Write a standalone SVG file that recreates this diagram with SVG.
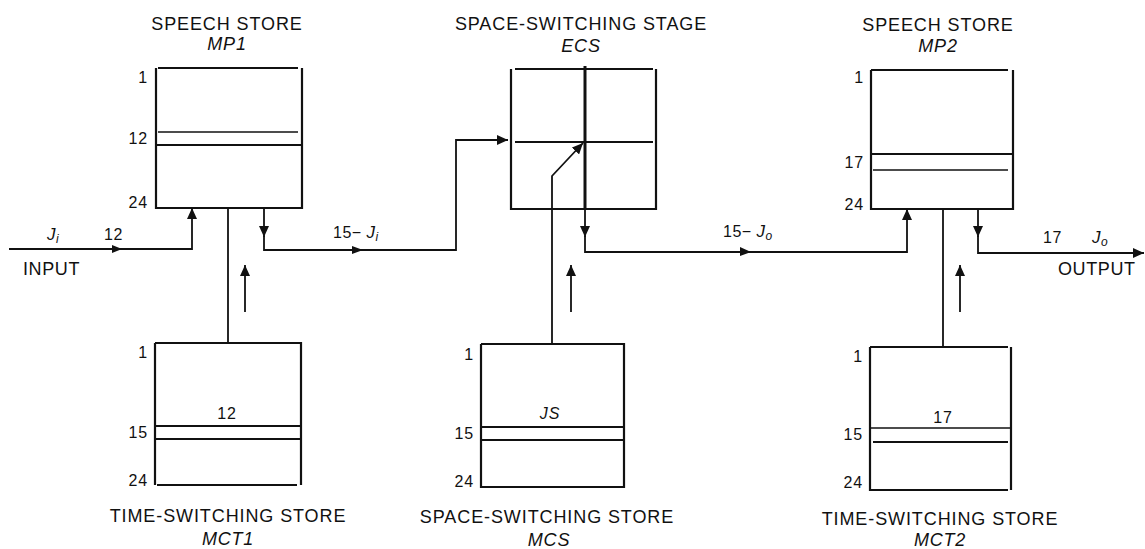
<svg xmlns="http://www.w3.org/2000/svg" width="1145" height="549" viewBox="0 0 1145 549">
<style>
  text { font-family: "Liberation Sans", Arial, sans-serif; fill: #111; }
  .title { font-size: 18px; letter-spacing: 0.9px; text-anchor: middle; }
  .name { font-size: 18px; font-style: italic; letter-spacing: 0.8px; text-anchor: middle; }
  .num { font-size: 16px; letter-spacing: 0.8px; text-anchor: end; }
  .mid { font-size: 16px; letter-spacing: 0.8px; text-anchor: middle; }
  .lab { font-size: 16px; letter-spacing: 0.5px; }
  .io { font-size: 18px; letter-spacing: 0.6px; }
  .it { font-style: italic; }
  .sub { font-size: 12px; font-style: italic; }
  .box { fill: none; stroke: #111; stroke-width: 2.2; }
  .thin { fill: none; stroke: #111; stroke-width: 1.6; }
  .wire { fill: none; stroke: #111; stroke-width: 1.8; }
  .tick { fill: #111; }
</style>
<defs>
  <marker id="ah" markerUnits="userSpaceOnUse" markerWidth="12" markerHeight="10" refX="11" refY="5" orient="auto">
    <path d="M0,0 L11,5 L0,10 z" fill="#111"/>
  </marker>
</defs>

<g id="MP1">
  <text class="title" x="227" y="30">SPEECH STORE</text>
  <text class="name" x="227" y="50">MP1</text>
  <path class="box" d="M156,68 V208 H302 V68 M158,68 H298"/>
  <path class="thin" d="M158,132 H298"/>
  <path class="box" d="M156,145 H302"/>
  <text class="num" x="148" y="83">1</text>
  <text class="num" x="148" y="144">12</text>
  <text class="num" x="148" y="208">24</text>
</g>

<g id="MCT1">
  <path class="box" d="M155,343 V485 M157,485 H297 M301,485 V343 H155"/>
  <path class="box" d="M155,426 H301 M155,439 H301"/>
  <text class="num" x="148" y="358">1</text>
  <text class="num" x="148" y="438">15</text>
  <text class="num" x="148" y="486">24</text>
  <text class="mid" x="227" y="419">12</text>
  <text class="title" x="228" y="522">TIME-SWITCHING STORE</text>
  <text class="name" x="228" y="545">MCT1</text>
</g>

<g id="ECS">
  <text class="title" x="581" y="30">SPACE-SWITCHING STAGE</text>
  <text class="name" x="581" y="52">ECS</text>
  <path class="box" d="M511,69 V209 H656 V69 M515,69 H653"/>
  <path class="box" d="M515,142 H653"/>
  <path d="M585,66 V209" fill="none" stroke="#111" stroke-width="3"/>
</g>

<g id="MCS">
  <path class="box" d="M481,344 V487 H624 V344 H481"/>
  <path class="box" d="M481,427 H624 M481,440 H624"/>
  <text class="num" x="474" y="360">1</text>
  <text class="num" x="474" y="439">15</text>
  <text class="num" x="474" y="487">24</text>
  <text class="mid it" x="550" y="419">JS</text>
  <text class="title" x="547" y="523">SPACE-SWITCHING STORE</text>
  <text class="name" x="549" y="546">MCS</text>
</g>

<g id="MP2">
  <text class="title" x="938" y="31">SPEECH STORE</text>
  <text class="name" x="938" y="52">MP2</text>
  <path class="box" d="M871,70 V209 H1013 V70 M871,70 H1008"/>
  <path class="box" d="M871,154 H1013"/>
  <path class="thin" d="M873,170 H1008"/>
  <text class="num" x="864" y="83">1</text>
  <text class="num" x="864" y="168">17</text>
  <text class="num" x="864" y="210">24</text>
</g>

<g id="MCT2">
  <path class="box" d="M870,347 V490 H1008 M1011,490 V347 M870,347 H1008"/>
  <path class="thin" d="M870,428 H1011"/>
  <path class="box" d="M873,442 H1008"/>
  <text class="num" x="863" y="362">1</text>
  <text class="num" x="863" y="440">15</text>
  <text class="num" x="863" y="488">24</text>
  <text class="mid" x="943" y="423">17</text>
  <text class="title" x="940" y="525">TIME-SWITCHING STORE</text>
  <text class="name" x="940" y="546">MCT2</text>
</g>

<g id="connectors">
  <path class="wire" d="M9,249 H192 V208" marker-end="url(#ah)"/>
  <path class="wire" d="M228,208 V343"/>
  <path class="wire" d="M245,312 V265" marker-end="url(#ah)"/>
  <path class="wire" d="M264,208 V237" marker-end="url(#ah)"/>
  <path class="wire" d="M264,236 V250 H456 V140 H508" marker-end="url(#ah)"/>
  <path class="wire" d="M585,209 V237" marker-end="url(#ah)"/>
  <path class="wire" d="M585,236 V252 H907 V209" marker-end="url(#ah)"/>
  <path class="wire" d="M552,343 V176 L583,143" marker-end="url(#ah)"/>
  <path class="wire" d="M571,312 V265" marker-end="url(#ah)"/>
  <path class="wire" d="M943,209 V347"/>
  <path class="wire" d="M960,312 V265" marker-end="url(#ah)"/>
  <path class="wire" d="M978,209 V237" marker-end="url(#ah)"/>
  <path class="wire" d="M978,236 V253 H1144" marker-end="url(#ah)"/>
  <path class="tick" d="M112,245 L122,249 L112,253 z"/>
  <path class="tick" d="M352,246 L363,250 L352,254 z"/>
  <path class="tick" d="M740,247 L751,252 L740,256 z"/>
</g>

<g id="labels">
  <text class="lab" x="47" y="240"><tspan class="it" font-size="17">J</tspan><tspan class="sub" dy="3">i</tspan></text>
  <text class="lab" x="104" y="240">12</text>
  <text class="io" x="23" y="275">INPUT</text>
  <text class="lab" x="333" y="238">15− <tspan class="it" font-size="17">J</tspan><tspan class="sub" dy="3">i</tspan></text>
  <text class="lab" x="723" y="237">15− <tspan class="it" font-size="17">J</tspan><tspan class="sub" dy="3">o</tspan></text>
  <text class="lab" x="1043" y="243">17</text>
  <text class="lab" x="1092" y="243"><tspan class="it" font-size="17">J</tspan><tspan class="sub" dy="3">o</tspan></text>
  <text class="io" x="1058" y="275">OUTPUT</text>
</g>
</svg>
